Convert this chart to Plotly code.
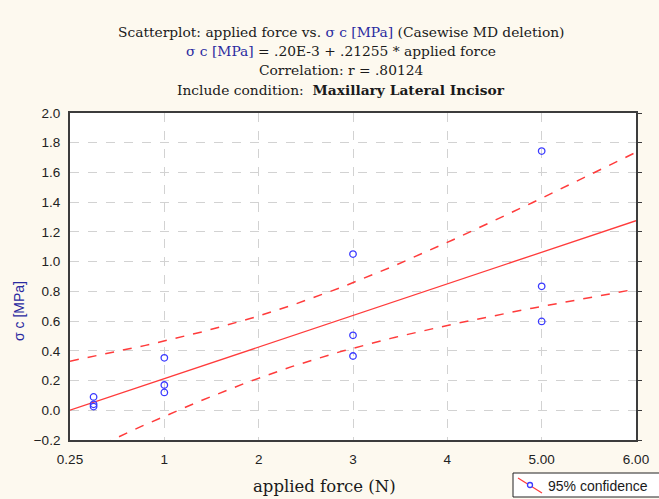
import numpy as np
import plotly.graph_objects as go

# Data
force = [0.25, 0.25, 0.25, 1, 1, 1, 3, 3, 3, 5, 5, 5]
sigma = [0.09, 0.04, 0.025, 0.353, 0.17, 0.12, 1.051, 0.504, 0.365, 1.744, 0.834, 0.598]
intercept = 0.20e-3
slope = 0.21255
x_tickvals = [0, 1, 2, 3, 4, 5, 6]
x_ticktext = ["0.25", "1", "2", "3", "4", "5.00", "6.00"]
y_tickvals = [-0.2, 0.0, 0.2, 0.4, 0.6, 0.8, 1.0, 1.2, 1.4, 1.6, 1.8, 2.0]

x = np.array(force)
y = np.array(sigma)
n = len(x)
xs = np.linspace(0, 6, 121)
fit = intercept + slope * xs
pred = intercept + slope * x
s = np.sqrt(np.sum((y - pred) ** 2) / (n - 2))
sxx = np.sum((x - x.mean()) ** 2)
t = 2.228  # t(0.975, 10)
hw = t * s * np.sqrt(1 / n + (xs - x.mean()) ** 2 / sxx)

RED = "#ff3b3b"
BLUE = "#3a3aff"

# plot area in pixels
L, R, T, B = 70, 636, 113, 440
W, H = R - L, B - T


def px(xp):
    return (xp - L) / W


def py(yp):
    return (B - yp) / H


fig = go.Figure()
fig.add_trace(go.Scatter(x=xs, y=fit + hw, mode="lines", line=dict(color=RED, width=1.5, dash="dash"),
                         showlegend=False, hoverinfo="skip"))
fig.add_trace(go.Scatter(x=xs, y=fit - hw, mode="lines", line=dict(color=RED, width=1.5, dash="dash"),
                         showlegend=False, hoverinfo="skip"))
fig.add_trace(go.Scatter(x=xs, y=fit, mode="lines", line=dict(color=RED, width=1.3),
                         showlegend=False, hoverinfo="skip"))
fig.add_trace(go.Scatter(x=force, y=sigma, mode="markers",
                         marker=dict(symbol="circle-open", size=6.5, color=BLUE, line=dict(width=1.3)),
                         showlegend=False))
fig.add_trace(go.Scatter(x=[0], y=[0], yaxis="y2", mode="markers", marker=dict(opacity=0),
                         showlegend=False, hoverinfo="skip"))

axis_line = dict(showline=True, linecolor="#3c3c3c", linewidth=1.8, mirror=True, automargin=False)
fig.update_layout(
    width=659, height=499,
    paper_bgcolor="#fdf9ef", plot_bgcolor="white",
    margin=dict(l=L, r=659 - R, t=T, b=499 - B),
    font=dict(family="Liberation Sans, Arial, sans-serif", size=13.5, color="#222222"),
    xaxis=dict(range=[0, 6], tickvals=x_tickvals, ticktext=x_ticktext,
               showgrid=True, gridcolor="#d2d2d2", griddash="dash", gridwidth=1,
               zeroline=False, ticks="", ticklabelstandoff=6, **axis_line),
    yaxis=dict(range=[-0.2, 2.0], tickvals=y_tickvals, tickformat=".1f",
               showgrid=True, gridcolor="#d2d2d2", griddash="dash", gridwidth=1,
               zeroline=False, ticks="", ticklabelstandoff=5, **axis_line),
    yaxis2=dict(range=[-0.2, 2.0], tickvals=y_tickvals, overlaying="y", side="right",
                showticklabels=False, ticks="outside", ticklen=5, tickcolor="#3c3c3c",
                showgrid=False, zeroline=False, automargin=False),
    showlegend=False,
)

serif = "DejaVu Serif, serif"
title_lines = [
    "Scatterplot: applied force vs. <span style='color:#2a2aa0'>σ c [MPa]</span> (Casewise MD deletion)",
    "<span style='color:#2a2aa0'>σ c [MPa]</span> = .20E-3 + .21255 * applied force",
    "Correlation: r = .80124",
    "Include condition:  <b>Maxillary Lateral Incisor</b>",
]
for i, line in enumerate(title_lines):
    fig.add_annotation(text=line, xref="paper", yref="paper",
                       x=px(341), y=py(32 + 19.2 * i),
                       xanchor="center", yanchor="middle", showarrow=False,
                       font=dict(family=serif, size=13.8, color="#1a1a1a"))

fig.add_annotation(text="applied force (N)", xref="paper", yref="paper",
                   x=px(324), y=py(486), xanchor="center", yanchor="middle",
                   showarrow=False, font=dict(family=serif, size=16.5, color="#1a1a1a"))
fig.add_annotation(text="σ c [MPa]", xref="paper", yref="paper",
                   x=px(19), y=py(311), xanchor="center", yanchor="middle",
                   textangle=-90, showarrow=False,
                   font=dict(family="Liberation Sans, Arial, sans-serif", size=14, color="#2a2aa0"))

# legend box drawn manually
fig.add_shape(type="rect", xref="paper", yref="paper",
              x0=px(513), x1=px(664), y0=py(473), y1=py(497),
              line=dict(color="#222222", width=1), fillcolor="white", layer="above")
fig.add_shape(type="line", xref="paper", yref="paper",
              x0=px(518), y0=py(478), x1=px(542), y1=py(493),
              line=dict(color=RED, width=1.2), layer="above")
fig.add_shape(type="circle", xref="paper", yref="paper",
              x0=px(527.5), x1=px(532.5), y0=py(482.5), y1=py(487.5),
              line=dict(color=BLUE, width=1.3), fillcolor="white", layer="above")
fig.add_annotation(text="95% confidence", xref="paper", yref="paper",
                   x=px(546), y=py(485.5), xanchor="left", yanchor="middle", showarrow=False,
                   font=dict(family="Liberation Sans, Arial, sans-serif", size=14, color="#1a1a1a"))

fig.write_html("out.html", config={"displayModeBar": False},
               post_script="document.body.style.margin='0';document.body.style.overflow='hidden';")
